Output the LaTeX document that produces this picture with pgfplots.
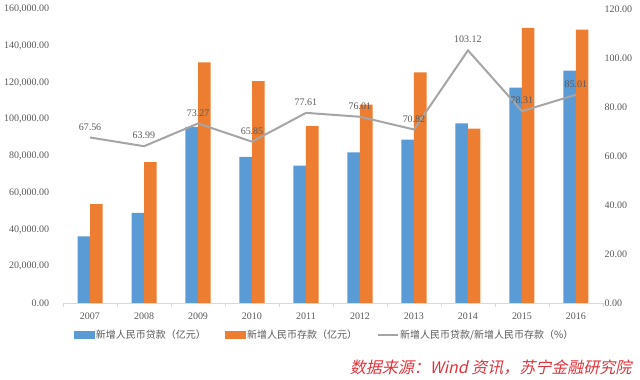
\documentclass[border=0pt]{standalone}
\usepackage{fontspec}
\setmainfont{Liberation Serif}
\newfontfamily\cjk{Noto Sans CJK SC}
\newfontfamily\cjkit[FakeSlant=0.22]{Noto Sans CJK SC}
\usepackage{pgfplots}
\pgfplotsset{compat=1.18}
\definecolor{cblue}{HTML}{5B9BD5}
\definecolor{corange}{HTML}{ED7D31}
\definecolor{cgray}{HTML}{A5A5A5}
\definecolor{ctext}{HTML}{595959}
\definecolor{caxis}{HTML}{D9D9D9}
\definecolor{cred}{HTML}{E0343C}
\begin{document}
\begin{tikzpicture}
\path[use as bounding box] (0pt,0pt) rectangle (640pt,380pt);
\begin{axis}[at={(63pt,77pt)}, anchor=south west, scale only axis,
  width=540pt, height=294pt,
  xmin=-0.5, xmax=9.5, ymin=0, ymax=160000,
  ybar=0pt, bar width=12.5pt,
  xtick={0,...,9}, xticklabels={2007,2008,2009,2010,2011,2012,2013,2014,2015,2016},
  minor xtick={-0.5,0.5,...,9.5},
  major x tick style={draw=none},
  minor x tick style={draw=caxis},
  minor tick length=4pt,
  tick align=outside,
  axis x line*=bottom,
  x axis line style={draw=caxis, line width=0.8pt, -},
  axis y line*=left,
  y axis line style={draw=none},
  ytick={0,20000,...,160000},
  ytick style={draw=none},
  scaled y ticks=false,
  xticklabel style={font=\fontsize{10}{11}\selectfont, text=ctext, yshift=-2pt},
  yticklabel style={font=\fontsize{10}{11}\selectfont, text=ctext, xshift=-6pt},
  /pgf/number format/.cd, fixed, fixed zerofill, precision=2, 1000 sep={,}, assume math mode=true,
]
\addplot[draw=none, fill=cblue] coordinates {(0,36323) (1,49100) (2,95900) (3,79500) (4,74700) (5,82000) (6,88900) (7,97800) (8,117200) (9,126500)};
\addplot[draw=none, fill=corange] coordinates {(0,53765) (1,76730) (2,130900) (3,120700) (4,96250) (5,107900) (6,125500) (7,94840) (8,149700) (9,148800)};
\end{axis}
\begin{axis}[at={(63pt,77pt)}, anchor=south west, scale only axis,
  width=540pt, height=294pt,
  xmin=-0.5, xmax=9.5, ymin=0, ymax=120,
  axis x line=none,
  axis y line*=right,
  y axis line style={draw=none},
  ytick={0,20,...,120},
  ytick style={draw=none},
  yticklabel style={font=\fontsize{10}{11}\selectfont, text=ctext, xshift=-2pt},
  /pgf/number format/.cd, fixed, fixed zerofill, precision=2, assume math mode=true,
  /pgfplots/.cd,
  nodes near coords,
  every node near coord/.append style={font=\fontsize{10}{11}\selectfont, text=ctext, anchor=south, yshift=3pt},
  legend columns=3,
  legend style={draw=none, fill=none, at={(0.484,-0.109)}, anchor=center,
    font=\cjk\fontsize{10}{11}\selectfont, text=ctext,
    nodes={inner sep=1.5pt},
    /tikz/every even column/.append style={column sep=18pt}},
]
\addlegendimage{legend image code/.code={\fill[cblue] (0pt,-3.5pt) rectangle (20pt,3.5pt);}}
\addlegendentry{新增人民币贷款（亿元）}
\addlegendimage{legend image code/.code={\fill[corange] (0pt,-3.5pt) rectangle (20pt,3.5pt);}}
\addlegendentry{新增人民币存款（亿元）}
\addplot[color=cgray, line width=2pt, mark=none, legend image code/.code={\draw[cgray, line width=2pt] (0pt,0pt) -- (20pt,0pt);}] coordinates {(0,67.56) (1,63.99) (2,73.27) (3,65.85) (4,77.61) (5,76.01) (6,70.82) (7,103.12) (8,78.31) (9,85.01)};
\addlegendentry{新增人民币贷款/新增人民币存款（\%）}
\end{axis}
\node[anchor=east, text=cred, font=\cjkit\fontsize{16}{18}\selectfont] at (635pt,12pt) {数据来源：Wind 资讯，苏宁金融研究院};
\end{tikzpicture}
\end{document}
